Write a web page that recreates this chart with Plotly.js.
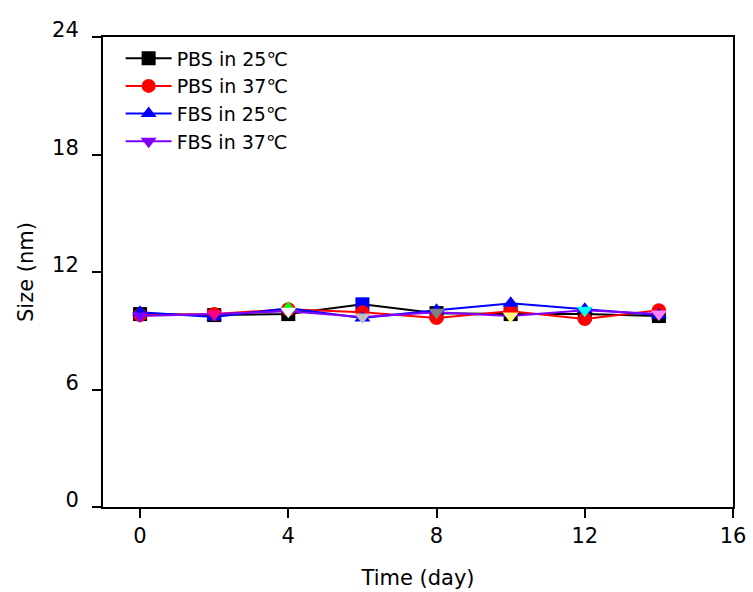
<!DOCTYPE html>
<html>
<head>
<meta charset="utf-8">
<script src="https://cdn.plot.ly/plotly-3.0.1.min.js"></script>
<style>html,body{margin:0;padding:0;background:#fff;}#chart{width:753px;height:592px;}</style>
</head>
<body>
<div id="chart"></div>
<script>
var days = [0, 2, 4, 6, 8, 10, 12, 14];
var pbs25 = [9.85, 9.8, 9.85, 10.35, 9.9, 9.85, 9.85, 9.75];
var pbs37 = [9.8, 9.85, 10.1, 9.95, 9.65, 10.0, 9.6, 10.05];
var fbs25 = [9.95, 9.7, 10.15, 9.65, 10.05, 10.4, 10.1, 9.8];
var fbs37 = [9.75, 9.85, 10.0, 9.7, 9.95, 9.75, 10.05, 9.85];
var seriesNames = ['PBS in 25℃', 'PBS in 37℃', 'FBS in 25℃', 'FBS in 37℃'];
var xTicks = [0, 4, 8, 12, 16];
var yTicks = [0, 6, 12, 18, 24];

var colPbs25 = ['#000000','#000000','#000000','#0000ff','#000000','#000000','#000000','#000000'];
var colPbs37 = ['#ff0000','#ff0000','#ff0000','#ff0000','#ff0000','#ff0000','#ff0000','#ff0000'];
var colFbs25 = ['#0000ff','#0000ff','#00ff00','#0000ff','#0000ff','#0000ff','#0000ff','#0000ff'];
var colFbs37 = ['#8000ff','#ff0080','#ffffff','#c0c0c0','#808080','#ffff80','#00ffff','#ff80ff'];

function tr(y, name, line, symbol, mcols) {
  return {
    x: days, y: y, name: name, type: 'scatter', mode: 'lines+markers',
    line: {color: line, width: 2},
    marker: {symbol: symbol, size: 14, color: mcols, line: {width: 0}}
  };
}
var data = [
  tr(pbs25, seriesNames[0], '#000000', 'square', colPbs25),
  tr(pbs37, seriesNames[1], '#ff0000', 'circle', colPbs37),
  tr(fbs25, seriesNames[2], '#0000ff', 'triangle-up', colFbs25),
  tr(fbs37, seriesNames[3], '#8000ff', 'triangle-down', colFbs37)
];

var fam = 'DejaVu Sans, sans-serif';
var layout = {
  width: 753, height: 592,
  margin: {l: 103, r: 20, t: 37, b: 85},
  paper_bgcolor: '#fff', plot_bgcolor: '#fff',
  font: {family: fam, color: '#000'},
  showlegend: true,
  legend: {x: 0.028, y: 0.995, xanchor: 'left', yanchor: 'top', bgcolor: 'rgba(0,0,0,0)',
           font: {family: fam, size: 19, color: '#000'}, itemwidth: 46},
  xaxis: {
    range: [-1, 16], tickvals: xTicks, ticktext: xTicks.map(String),
    showgrid: false, zeroline: false, showline: true, linecolor: '#000', linewidth: 2,
    mirror: true, ticks: 'outside', ticklen: 9, tickwidth: 2, tickcolor: '#000',
    tickfont: {family: fam, size: 21, color: '#000'},
    title: {text: 'Time (day)', font: {family: fam, size: 21, color: '#000'}, standoff: 23}
  },
  yaxis: {
    range: [0, 24], tickvals: yTicks, ticktext: yTicks.map(String),
    showgrid: false, zeroline: false, showline: true, linecolor: '#000', linewidth: 2,
    mirror: true, ticks: 'outside', ticklen: 9, tickwidth: 2, tickcolor: '#000',
    ticklabelshift: -7, ticklabelstandoff: 9,
    tickfont: {family: fam, size: 21, color: '#000'},
    title: {text: 'Size (nm)', font: {family: fam, size: 21, color: '#000'}, standoff: 13}
  }
};
Plotly.newPlot('chart', data, layout, {displayModeBar: false, staticPlot: true});
</script>
</body>
</html>
